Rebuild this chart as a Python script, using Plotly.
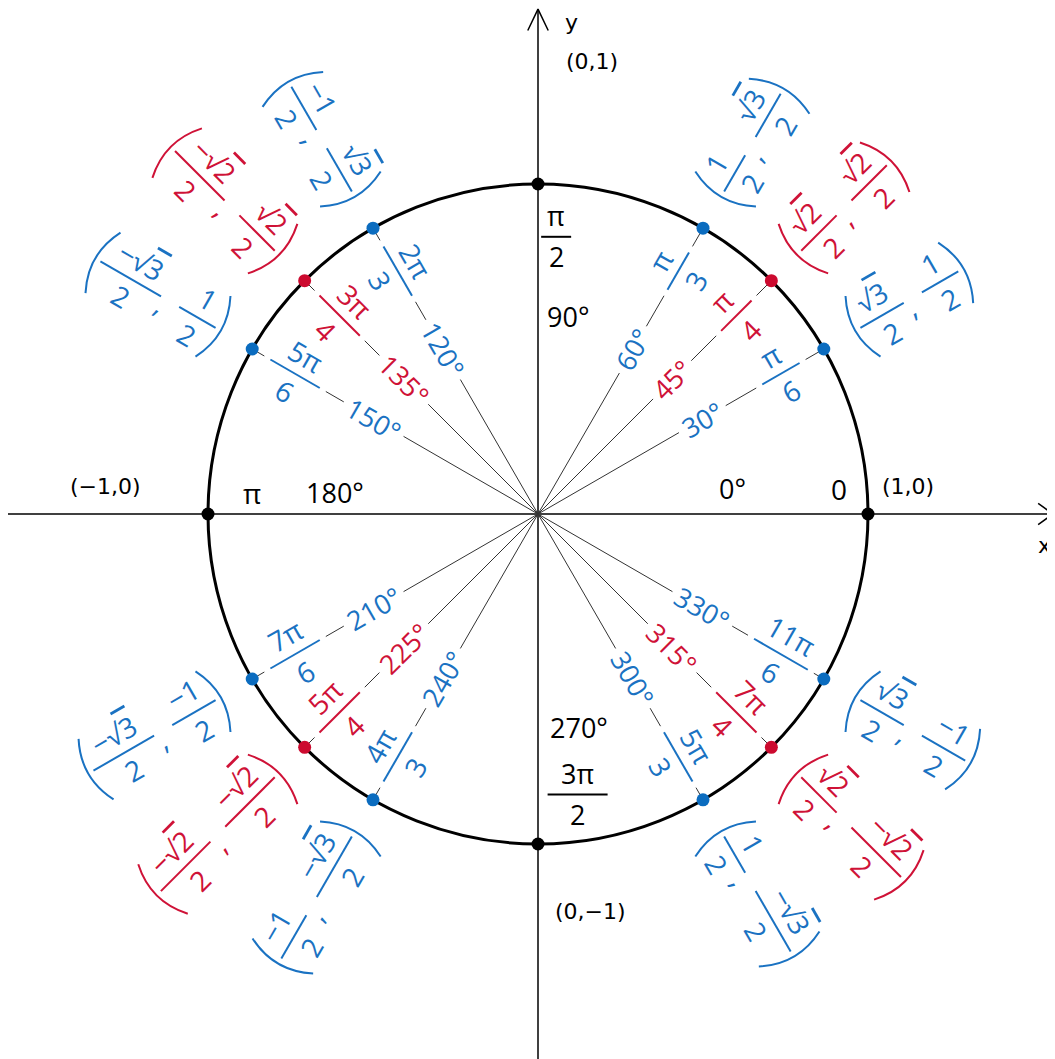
import numpy as np
import plotly.graph_objects as go

# ---------------- data ----------------
angles_deg = [30, 45, 60, 120, 135, 150, 210, 225, 240, 300, 315, 330]
series = ["b", "r", "b", "b", "r", "b", "b", "r", "b", "b", "r", "b"]
deg_labels = ["30°", "45°", "60°", "120°", "135°", "150°",
              "210°", "225°", "240°", "300°", "315°", "330°"]
rad_num = ["π", "π", "π", "2π", "3π", "5π", "7π", "5π", "4π", "5π", "7π", "11π"]
rad_den = ["6", "4", "3", "3", "4", "6", "6", "4", "3", "3", "4", "6"]
x_num = ["√3", "√2", "1", "−1", "−√2", "−√3", "−√3", "−√2", "−1", "1", "√2", "√3"]
x_den = ["2", "2", "2", "2", "2", "2", "2", "2", "2", "2", "2", "2"]
y_num = ["1", "√2", "√3", "√3", "√2", "1", "−1", "−√2", "−√3", "−√3", "−√2", "−1"]
y_den = ["2", "2", "2", "2", "2", "2", "2", "2", "2", "2", "2", "2"]

axis_angles = [0, 90, 180, 270]
axis_deg_labels = ["0°", "90°", "180°", "270°"]
axis_rad_num = ["0", "π", "π", "3π"]
axis_rad_den = ["", "2", "", "2"]
axis_coord_labels = ["(1,0)", "(0,1)", "(−1,0)", "(0,−1)"]

# ---------------- style ----------------
S = 330.0          # pixels per unit
CX, CY = 530, 506  # circle centre in figure pixels (page adds an 8px body margin)
W, H = 1055, 1059
BLUE = "#1a72c2"
RED = "#cf1237"
DOT_BLUE = "#0b6cbf"
DOT_RED = "#cc0a2f"
FONT = "Open Sans"
BF = "DejaVu Sans"
FS = 27

ann = []
shapes = []


def P(v):
    return v / S


def frame(th):
    beta = th if np.cos(np.radians(th)) > 1e-9 else th - 180
    b = np.radians(beta)
    return beta, np.array([np.cos(b), np.sin(b)]), np.array([-np.sin(b), np.cos(b)])


def fmt(s):
    if "√" in s:
        i = s.index("√")
        return s[:i + 1] + '<span style="text-decoration:overline">' + s[i + 1:] + "</span>"
    return s


def text(pos, s, beta, color, size=FS, font=FONT):
    ann.append(dict(x=float(pos[0]), y=float(pos[1]), text=fmt(s), textangle=-beta,
                    showarrow=False, xanchor="center", yanchor="middle",
                    font=dict(family=font, size=size, color=color)))


def seg(p, q, color, w=2):
    shapes.append(dict(type="line", x0=float(p[0]), y0=float(p[1]), x1=float(q[0]), y1=float(q[1]),
                       line=dict(color=color, width=w)))


def frac(c, eb, eu, beta, num, den, bar, color, size=FS, font=FONT):
    text(c + eu * P(21), num, beta, color, size, font)
    text(c - eu * P(20), den, beta, color, size, font)
    seg(c - eb * P(bar / 2), c + eb * P(bar / 2), color)


def paren(c, eb, eu, side, color):
    a, h = P(9), P(35)
    s = 1 if side == "(" else -1
    top = c + eb * (s * a) + eu * h
    ctrl = c - eb * (s * a)
    bot = c + eb * (s * a) - eu * h
    shapes.append(dict(type="path",
                       path=f"M {top[0]:.5f},{top[1]:.5f} Q {ctrl[0]:.5f},{ctrl[1]:.5f} {bot[0]:.5f},{bot[1]:.5f}",
                       line=dict(color=color, width=2)))


def outer_bar(num):
    if num == "1":
        return 42
    return 50 if len(num) == 2 else 70


fig = go.Figure()

x_left, x_right = -CX / S, (W - CX) / S
y_bot, y_top = -(H - CY) / S, CY / S

# axes with arrows
xt = x_right - P(10)
fig.add_trace(go.Scatter(x=[x_left + P(-3), xt], y=[0, 0], mode="lines",
                         line=dict(color="black", width=1.5), hoverinfo="skip"))
fig.add_trace(go.Scatter(x=[0, 0], y=[y_bot, 1.530], mode="lines",
                         line=dict(color="black", width=1.5), hoverinfo="skip"))
fig.add_trace(go.Scatter(x=[xt - 0.045, xt, xt - 0.045], y=[0.032, 0, -0.032], mode="lines",
                         line=dict(color="black", width=1.5), hoverinfo="skip"))
fig.add_trace(go.Scatter(x=[-0.031, 0, 0.031], y=[1.465, 1.530, 1.465], mode="lines",
                         line=dict(color="black", width=1.5), hoverinfo="skip"))

# circle
shapes.append(dict(type="circle", x0=-1, y0=-1, x1=1, y1=1, layer="below",
                   line=dict(color="black", width=3)))

line_x, line_y = [], []
for i, th in enumerate(angles_deg):
    beta, eb, eu = frame(th)
    u = np.array([np.cos(np.radians(th)), np.sin(np.radians(th))])
    color = BLUE if series[i] == "b" else RED
    rd, rr = 0.575, 0.85
    ndig = len(deg_labels[i]) - 1
    gd = P((ndig * 15 + 10) / 2 + 7)
    rbar = 43 if len(rad_num[i]) == 1 else (57 if len(rad_num[i]) == 2 else 62)
    gr = P(rbar / 2 + 7)
    for a_, b_ in [(0, rd - gd), (rd + gd, rr - gr), (rr + gr, 1)]:
        line_x += [u[0] * a_, u[0] * b_, None]
        line_y += [u[1] * a_, u[1] * b_, None]
    text(u * rd, deg_labels[i], beta, color)
    frac(u * rr, eb, eu, beta, rad_num[i], rad_den[i], rbar, color, 28)

    # coordinate label outside the circle
    b1 = outer_bar(x_num[i])
    b2 = outer_bar(y_num[i])
    t1 = 6 + b1 / 2
    tc = 6 + b1 + 4
    t2 = 6 + b1 + 21 + b2 / 2
    L = 6 + b1 + 21 + b2 + 6
    C = u * (1.11 + P(L / 2))

    def at(t, v=0.0):
        return C + eb * P(t - L / 2) + eu * P(v)

    paren(at(0), eb, eu, "(", color)
    frac(at(t1), eb, eu, beta, x_num[i], x_den[i], b1, color, 28)
    text(at(tc, -7), ",", beta, color, 28)
    frac(at(t2), eb, eu, beta, y_num[i], y_den[i], b2, color, 28)
    paren(at(L), eb, eu, ")", color)

fig.add_trace(go.Scatter(x=line_x, y=line_y, mode="lines",
                         line=dict(color="#333333", width=1), hoverinfo="skip"))

# points on the circle
dot_x = [np.cos(np.radians(a)) for a in angles_deg] + [np.cos(np.radians(a)) for a in axis_angles]
dot_y = [np.sin(np.radians(a)) for a in angles_deg] + [np.sin(np.radians(a)) for a in axis_angles]
dot_c = [DOT_BLUE if s == "b" else DOT_RED for s in series] + ["black"] * len(axis_angles)
fig.add_trace(go.Scatter(x=dot_x, y=dot_y, mode="markers",
                         marker=dict(size=13, color=dot_c, line=dict(width=0)), hoverinfo="skip"))

# axis-angle labels (black, horizontal)
deg_pos = {0: (0.588, 0.076), 90: (0.09, 0.60), 180: (-0.615, 0.064), 270: (0.124, -0.648)}
rad_pos = {0: (0.912, 0.076), 90: (0.055, 0.84), 180: (-0.867, 0.064), 270: (0.12, -0.85)}
rad_bar = {90: 30, 270: 60}
coord_pos = {0: (1.121, 0.082), 90: (0.164, 1.37), 180: (-1.312, 0.082), 270: (0.158, -1.206)}
for k, a in enumerate(axis_angles):
    text(np.array(deg_pos[a]), axis_deg_labels[k], 0, "black", 27, FONT)
    if axis_rad_den[k]:
        frac(np.array(rad_pos[a]), np.array([1.0, 0.0]), np.array([0.0, 1.0]), 0,
             axis_rad_num[k], axis_rad_den[k], rad_bar[a], "black", 27)
    else:
        text(np.array(rad_pos[a]), axis_rad_num[k], 0, "black", 28, FONT)
    text(np.array(coord_pos[a]), axis_coord_labels[k], 0, "black", 22, BF)

ann.append(dict(x=0.103, y=1.49, text="y", showarrow=False, xanchor="center", yanchor="middle",
                font=dict(family=BF, size=22, color="black")))
ann.append(dict(x=x_right - P(10), y=-0.094, text="x", showarrow=False, xanchor="right",
                yanchor="middle", font=dict(family=BF, size=22, color="black")))

fig.update_layout(
    width=W, height=H,
    margin=dict(l=0, r=0, t=0, b=0),
    paper_bgcolor="white", plot_bgcolor="white",
    showlegend=False,
    xaxis=dict(range=[x_left, x_right], visible=False, fixedrange=True),
    yaxis=dict(range=[y_bot, y_top], visible=False, fixedrange=True),
    annotations=ann, shapes=shapes,
)

fig.write_html("out.html")
